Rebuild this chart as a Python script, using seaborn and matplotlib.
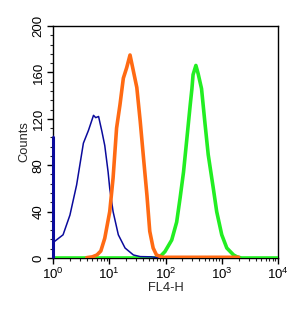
import numpy as np
import pandas as pd
import matplotlib
matplotlib.use("Agg")
import matplotlib.pyplot as plt
import seaborn as sns
from matplotlib.ticker import LogLocator, MultipleLocator, NullFormatter

# FL4-H (linear units) and counts
blue_x = [1.0, 1.0, 1.0, 1.047, 1.51, 2.0, 2.63, 3.47, 4.27, 5.25, 5.75, 6.46, 7.41, 8.32,
          9.55, 10.2, 11.7, 14.5, 19.1, 26.9, 35.5, 56.2, 79.4]
blue_y = [0, 105, 14, 14, 20, 37, 63, 99, 110, 123, 121, 122, 109, 97,
          74, 60, 40, 20, 8.6, 2.6, 1.2, 1, 0]

orange_x = [3.98, 5.01, 6.03, 7.08, 8.32, 10.2, 11.7, 13.5, 15.5, 17.8, 20.4, 23.4, 26.9,
            30.9, 35.5, 40.7, 46.8, 52.5, 60.3, 69.2, 89.1, 1995]
orange_y = [0.3, 1, 2.6, 6, 17, 40, 69, 112, 132, 155, 164, 175, 161,
            147, 118, 86, 54, 23, 8.6, 2.6, 0.6, 0.6]

green_x = [1, 63.1, 79.4, 97.7, 129, 158, 182, 209, 240, 275, 295, 309, 347, 380, 437,
           501, 575, 708, 813, 1000, 1230, 1622, 1862, 2239, 10000]
green_y = [0, 0, 1, 5.5, 15.5, 31, 52, 74, 103, 132, 146, 158, 166, 159, 146,
           117, 89, 60, 40, 20, 8.6, 2.6, 1, 0, 0]

x_label = "FL4-H"
y_label = "Counts"

sns.set_style("ticks")
plt.rcParams['font.family'] = ['Liberation Sans', 'DejaVu Sans']
plt.rcParams['mathtext.fontset'] = 'custom'
plt.rcParams['mathtext.rm'] = 'Liberation Sans'
plt.rcParams['mathtext.default'] = 'regular'

fig = plt.figure(figsize=(3.02, 3.12), dpi=100)
ax = fig.add_axes([53/302, 54/312, 225/302, 232/312])

df_b = pd.DataFrame({"x": blue_x, "y": blue_y})
df_o = pd.DataFrame({"x": orange_x, "y": orange_y})
df_g = pd.DataFrame({"x": green_x, "y": green_y})

sns.lineplot(data=df_g, x="x", y="y", ax=ax, color="#22ee22", linewidth=2.6,
             sort=False, estimator=None, zorder=2.8)
sns.lineplot(data=df_b, x="x", y="y", ax=ax, color="#0b0b9c", linewidth=1.1,
             sort=False, estimator=None, zorder=3)
sns.lineplot(data=df_o, x="x", y="y", ax=ax, color="#ff6a13", linewidth=2.6,
             sort=False, estimator=None, zorder=3.5)
# first (pile-up) bin of the blue histogram drawn on the left edge
ax.vlines(blue_x[0], blue_y[0], blue_y[1], color="#0b0b9c", linewidth=2.2,
          zorder=3, clip_on=False)

ax.set_xscale("log")
ax.set_xlim(1, 1e4)
ax.set_ylim(0, 200)

ax.xaxis.set_major_locator(LogLocator(base=10, numticks=10))
ax.xaxis.set_minor_locator(LogLocator(base=10, subs=np.arange(2, 10), numticks=20))
ax.xaxis.set_minor_formatter(NullFormatter())
ax.yaxis.set_major_locator(MultipleLocator(40))
ax.yaxis.set_minor_locator(MultipleLocator(8))

for s in ax.spines.values():
    s.set_linewidth(1.0)
    s.set_color("black")

ax.tick_params(axis="both", which="major", direction="out", length=4, width=1,
               labelsize=9.5, colors="black", pad=2)
ax.tick_params(axis="both", which="minor", direction="out", length=2.5, width=0.8)
ax.tick_params(axis="x", which="major", pad=2)
for lbl in ax.get_yticklabels():
    lbl.set_rotation(90)
    lbl.set_va("center")

ax.set_xlabel(x_label, fontsize=9.3, labelpad=0)
ax.set_ylabel(y_label, fontsize=9.3, labelpad=2)

fig.savefig("out.png", dpi=100)
